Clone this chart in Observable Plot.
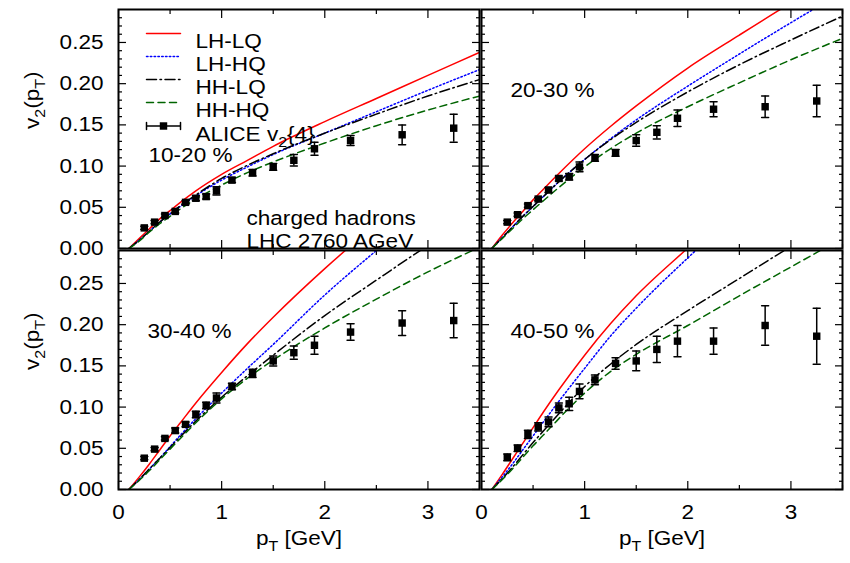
<!DOCTYPE html>
<html><head><meta charset="utf-8">
<script src="https://cdn.jsdelivr.net/npm/d3@7"></script>
<script src="https://cdn.jsdelivr.net/npm/@observablehq/plot@0.6"></script>
<style>
html,body{margin:0;padding:0;background:#fff;}
#chart{width:850px;height:563px;overflow:hidden;}
</style></head><body><div id="chart"></div>
<script>
// ---------- data ----------
const panels = ["10-20 %", "20-30 %", "30-40 %", "40-50 %"];
const panelCol = [0, 1, 0, 1];
const panelRow = [0, 0, 1, 1];
const models = ["LH-LQ", "LH-HQ", "HH-LQ", "HH-HQ"];
const pt = [0.1, 0.2, 0.3, 0.4, 0.5, 0.6, 0.75, 1.0, 1.25, 1.5, 2.0, 2.5, 3.0, 3.5];
const v2_LH_LQ = [
  [0, 0.012, 0.024, 0.036, 0.046, 0.056, 0.070, 0.090, 0.107, 0.124, 0.154, 0.182, 0.210, 0.238],
  [0, 0.016, 0.031, 0.045, 0.059, 0.072, 0.091, 0.121, 0.148, 0.173, 0.219, 0.259, 0.298, 0.335],
  [0, 0.015, 0.031, 0.048, 0.065, 0.081, 0.105, 0.142, 0.177, 0.209, 0.268, 0.322, 0.372, 0.420],
  [0, 0.018, 0.037, 0.056, 0.075, 0.094, 0.121, 0.163, 0.201, 0.235, 0.293, 0.350, 0.400, 0.450]
];
const v2_LH_HQ = [
  [0, 0.010, 0.021, 0.032, 0.042, 0.051, 0.064, 0.083, 0.099, 0.114, 0.140, 0.166, 0.192, 0.217],
  [0, 0.013, 0.026, 0.039, 0.051, 0.063, 0.081, 0.108, 0.133, 0.156, 0.197, 0.236, 0.274, 0.311],
  [0, 0.012, 0.025, 0.038, 0.052, 0.066, 0.086, 0.117, 0.147, 0.176, 0.236, 0.290, 0.342, 0.390],
  [0, 0.015, 0.031, 0.048, 0.065, 0.082, 0.107, 0.147, 0.186, 0.220, 0.281, 0.338, 0.390, 0.440]
];
const v2_HH_LQ = [
  [0, 0.010, 0.021, 0.032, 0.042, 0.052, 0.065, 0.085, 0.101, 0.115, 0.140, 0.163, 0.185, 0.205],
  [0, 0.013, 0.026, 0.039, 0.051, 0.063, 0.081, 0.108, 0.132, 0.153, 0.190, 0.223, 0.253, 0.282],
  [0, 0.012, 0.025, 0.038, 0.051, 0.064, 0.083, 0.112, 0.138, 0.163, 0.211, 0.254, 0.296, 0.335],
  [0, 0.013, 0.027, 0.042, 0.057, 0.071, 0.092, 0.125, 0.152, 0.176, 0.217, 0.256, 0.295, 0.332]
];
const v2_HH_HQ = [
  [0, 0.009, 0.020, 0.030, 0.039, 0.048, 0.060, 0.077, 0.092, 0.105, 0.128, 0.149, 0.168, 0.185],
  [0, 0.012, 0.024, 0.036, 0.047, 0.058, 0.074, 0.099, 0.121, 0.140, 0.172, 0.201, 0.229, 0.255],
  [0, 0.011, 0.023, 0.036, 0.049, 0.062, 0.081, 0.110, 0.135, 0.157, 0.196, 0.231, 0.264, 0.294],
  [0, 0.012, 0.025, 0.039, 0.053, 0.066, 0.086, 0.117, 0.143, 0.164, 0.199, 0.235, 0.270, 0.305]
];
const alicePt = [0.25, 0.35, 0.45, 0.55, 0.65, 0.75, 0.85, 0.95, 1.1, 1.3, 1.5, 1.7, 1.9, 2.25, 2.75, 3.25];
const aliceV2 = [
  [0.025, 0.032, 0.040, 0.045, 0.056, 0.061, 0.063, 0.070, 0.083, 0.092, 0.099, 0.107, 0.121, 0.131, 0.138, 0.146],
  [0.032, 0.041, 0.052, 0.060, 0.071, 0.085, 0.087, 0.099, 0.110, 0.116, 0.131, 0.141, 0.158, 0.169, 0.172, 0.179],
  [0.038, 0.049, 0.062, 0.0715, 0.079, 0.091, 0.102, 0.111, 0.125, 0.141, 0.156, 0.166, 0.175, 0.191, 0.202, 0.205],
  [0.039, 0.050, 0.067, 0.076, 0.082, 0.099, 0.104, 0.119, 0.133, 0.153, 0.156, 0.170, 0.180, 0.180, 0.199, 0.186]
];
const aliceErr = [
  [0.002, 0.002, 0.002, 0.002, 0.002, 0.003, 0.003, 0.005, 0.003, 0.004, 0.004, 0.007, 0.008, 0.006, 0.012, 0.017],
  [0.002, 0.002, 0.002, 0.002, 0.003, 0.003, 0.004, 0.006, 0.004, 0.004, 0.007, 0.008, 0.010, 0.009, 0.013, 0.019],
  [0.002, 0.002, 0.002, 0.003, 0.003, 0.004, 0.004, 0.006, 0.004, 0.005, 0.006, 0.008, 0.011, 0.010, 0.015, 0.021],
  [0.004, 0.004, 0.005, 0.005, 0.006, 0.006, 0.008, 0.009, 0.006, 0.007, 0.012, 0.016, 0.019, 0.016, 0.024, 0.034]
];
const aliceLabel = "ALICE v_{2}{4}";
const systemLines = ["charged hadrons", "LHC 2760 AGeV"];
const xLabel = "p_{T} [GeV]";
const yLabel = "v_{2}(p_{T})";
const xTicks = [0, 1, 2, 3];
const xMinorTicks = [0.5, 1.5, 2.5, 3.5];
const yTicks = [0, 0.05, 0.10, 0.15, 0.20, 0.25];
const yMinorTicks = [0.01, 0.02, 0.03, 0.04, 0.06, 0.07, 0.08, 0.09, 0.11, 0.12, 0.13, 0.14,
  0.16, 0.17, 0.18, 0.19, 0.21, 0.22, 0.23, 0.24, 0.26, 0.27, 0.28];

// ---------- styles ----------
const curveSets = [v2_LH_LQ, v2_LH_HQ, v2_HH_LQ, v2_HH_HQ];
const modelStroke = ["#ff0000", "#0000ff", "#000000", "#006400"];
const modelDash = [null, "1.5,2.3", "10,3.5,1.5,3.5", "7,4.5"];
const FS = 20.5;       // all text
const STRETCH = 1.1;   // the reference glyphs are set wide

// ---------- tables ----------
const curveRows = [];
panels.forEach((p, i) => curveSets.forEach((set, j) => pt.forEach((x, k) => {
  curveRows.push({col: panelCol[i], row: panelRow[i], model: models[j], pt: x, v2: set[i][k]});
})));
const aliceRows = [];
panels.forEach((p, i) => alicePt.forEach((x, k) => {
  aliceRows.push({col: panelCol[i], row: panelRow[i], pt: x, v2: aliceV2[i][k], err: aliceErr[i][k]});
}));
const panelRows = panels.map((p, i) => ({col: panelCol[i], row: panelRow[i], label: p}));

const hline = {draw(ctx, l) { ctx.moveTo(0, 0); ctx.lineTo(0, -l); }};
const errLegend = {draw(ctx, l) {
  ctx.moveTo(0, 0); ctx.lineTo(0, -l);
  ctx.moveTo(-3.5, 0); ctx.lineTo(3.5, 0);
  ctx.moveTo(-3.5, -l); ctx.lineTo(3.5, -l);
}};
const TL = [{col: 0, row: 0}];
const F = {fx: "col", fy: "row"};

const marks = [];
// ticks (inward, on all four sides of every panel)
for (const a of ["bottom", "top"]) {
  marks.push(Plot.axisX(xTicks, {anchor: a, facetAnchor: null, tickSize: -8, fill: "none", stroke: "black", strokeWidth: 1.2, label: null}));
  marks.push(Plot.axisX(xMinorTicks, {anchor: a, facetAnchor: null, tickSize: -4, fill: "none", stroke: "black", strokeWidth: 1.2, label: null}));
}
for (const a of ["left", "right"]) {
  marks.push(Plot.axisY(yTicks, {anchor: a, facetAnchor: null, tickSize: -8, fill: "none", stroke: "black", strokeWidth: 1.2, label: null}));
  marks.push(Plot.axisY(yMinorTicks, {anchor: a, facetAnchor: null, tickSize: -4, fill: "none", stroke: "black", strokeWidth: 1.2, label: null}));
}
// tick labels
marks.push(Plot.axisX(xTicks, {anchor: "bottom", tickSize: 0, tickPadding: 15, fontSize: FS, label: null, tickFormat: d => String(d)}));
marks.push(Plot.axisY(yTicks, {anchor: "left", tickSize: 0, tickPadding: 15, fontSize: FS, label: null, tickFormat: d3.format(".2f")}));

// model curves
models.forEach((m, j) => {
  marks.push(Plot.line(curveRows.filter(d => d.model === m), {
    x: "pt", y: "v2", ...F, stroke: modelStroke[j], strokeWidth: 1.5,
    strokeDasharray: modelDash[j], curve: "monotone-x", clip: true
  }));
});
// ALICE data
marks.push(Plot.ruleX(aliceRows, {x: "pt", y1: d => d.v2 - d.err, y2: d => d.v2 + d.err, ...F, stroke: "black", strokeWidth: 1.5}));
marks.push(Plot.vector(aliceRows, {x: "pt", y: d => d.v2 - d.err, ...F, length: 7, rotate: 90, anchor: "middle", shape: hline, stroke: "black", strokeWidth: 1.5}));
marks.push(Plot.vector(aliceRows, {x: "pt", y: d => d.v2 + d.err, ...F, length: 7, rotate: 90, anchor: "middle", shape: hline, stroke: "black", strokeWidth: 1.5}));
marks.push(Plot.dot(aliceRows, {x: "pt", y: "v2", ...F, symbol: "square", r: 4.2, fill: "black"}));

marks.push(Plot.frame({stroke: "black", strokeWidth: 2}));

// panel labels
marks.push(Plot.text(panelRows.filter(d => d.col === 0 && d.row === 0), {...F, text: "label", frameAnchor: "top-left", dx: 30, dy: 138, textAnchor: "start", fontSize: FS}));
marks.push(Plot.text(panelRows.filter(d => !(d.col === 0 && d.row === 0)), {...F, text: "label", frameAnchor: "top-left", dx: 29, dy: 73, textAnchor: "start", fontSize: FS}));
systemLines.forEach((s, i) => {
  marks.push(Plot.text(TL, {...F, text: () => s, frameAnchor: "top-left", dx: 128, dy: 201 + 23 * i, textAnchor: "start", fontSize: FS}));
});

// legend
const legY = [24, 47, 70, 93, 116.5];
models.forEach((m, j) => {
  marks.push(Plot.vector(TL, {...F, frameAnchor: "top-left", dx: 28, dy: legY[j], length: 34, rotate: 90, anchor: "start", shape: hline, stroke: modelStroke[j], strokeWidth: 1.5, strokeDasharray: modelDash[j]}));
  marks.push(Plot.text(TL, {...F, text: () => m, frameAnchor: "top-left", dx: 77, dy: legY[j], textAnchor: "start", fontSize: FS}));
});
marks.push(Plot.vector(TL, {...F, frameAnchor: "top-left", dx: 28, dy: legY[4], length: 34, rotate: 90, anchor: "start", shape: errLegend, stroke: "black", strokeWidth: 1.5}));
marks.push(Plot.dot(TL, {...F, frameAnchor: "top-left", dx: 45, dy: legY[4], symbol: "square", r: 4.2, fill: "black"}));
marks.push(Plot.text(TL, {...F, text: () => aliceLabel, frameAnchor: "top-left", dx: 77, dy: legY[4], textAnchor: "start", fontSize: FS}));

// axis titles
marks.push(Plot.text(panelRows.filter(d => d.row === 1), {...F, text: () => xLabel, frameAnchor: "bottom", dy: 55, fontSize: FS}));
marks.push(Plot.text(panelRows.filter(d => d.col === 0), {...F, text: () => yLabel, frameAnchor: "left", dx: -86, rotate: -90, fontSize: FS}));

const chart = Plot.plot({
  width: 850, height: 563,
  marginLeft: 117, marginRight: 7, marginTop: 8, marginBottom: 73,
  style: {fontFamily: "'Liberation Sans', Arial, Helvetica, sans-serif", fontSize: FS + "px", color: "black", background: "white"},
  x: {domain: [0, 3.5]},
  y: {domain: [0, 0.29]},
  fx: {domain: [0, 1], paddingInner: 0.005, paddingOuter: 0, axis: null},
  fy: {domain: [0, 1], paddingInner: 0.008, paddingOuter: 0, axis: null},
  marks
});

// subscripts: turn "_{...}" into real subscript tspans
(function subscriptify(svg) {
  const ns = "http://www.w3.org/2000/svg";
  svg.querySelectorAll("text").forEach(t => {
    const s = t.textContent;
    if (!s.includes("_{")) return;
    while (t.firstChild) t.removeChild(t.firstChild);
    let shifted = false;
    const add = (str, sub) => {
      const ts = document.createElementNS(ns, "tspan");
      ts.textContent = str;
      if (sub) { ts.setAttribute("font-size", 14.5); if (!shifted) { ts.setAttribute("dy", 6); shifted = true; } }
      else if (shifted) { ts.setAttribute("dy", -6); shifted = false; }
      t.appendChild(ts);
    };
    const re = /_\{([^}]*)\}/g;
    let last = 0, m;
    while ((m = re.exec(s))) {
      if (m.index > last) add(s.slice(last, m.index), false);
      add(m[1], true);
      last = re.lastIndex;
    }
    if (last < s.length) add(s.slice(last), false);
  });
})(chart);

document.getElementById("chart").appendChild(chart);

// widen glyphs horizontally to match the reference lettering
chart.querySelectorAll("text").forEach(t => {
  const w = t.getComputedTextLength();
  if (w > 0) {
    t.setAttribute("textLength", (w * STRETCH).toFixed(1));
    t.setAttribute("lengthAdjust", "spacingAndGlyphs");
  }
});
</script></body></html>
